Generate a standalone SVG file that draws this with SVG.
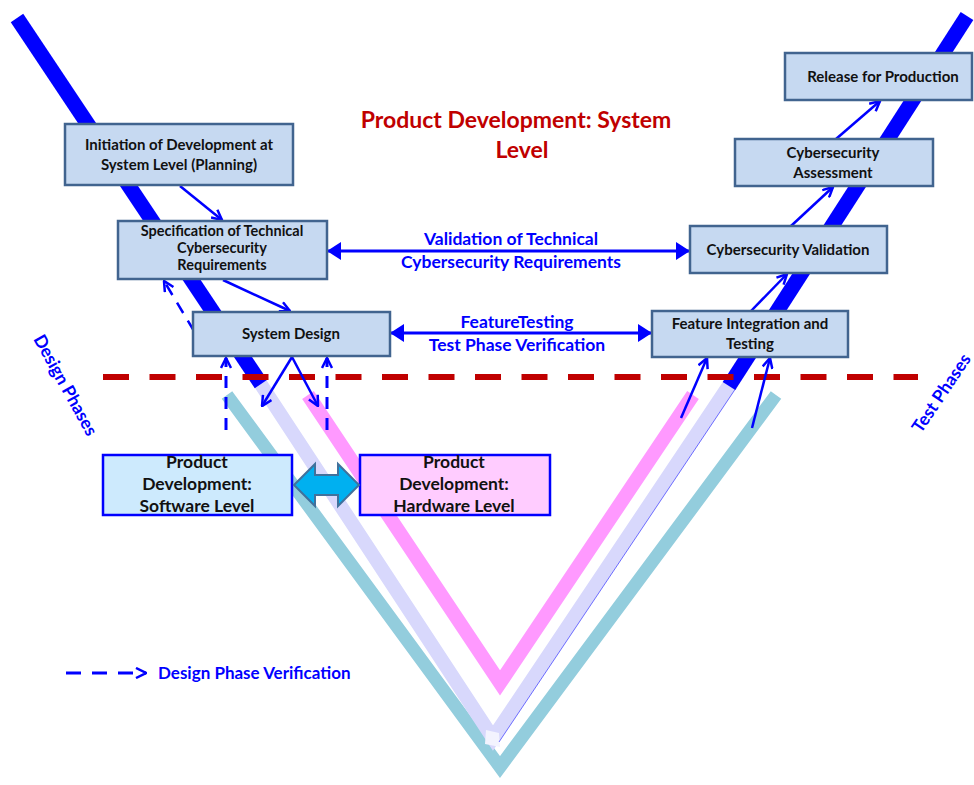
<svg xmlns="http://www.w3.org/2000/svg" width="974" height="785" viewBox="0 0 974 785">
<defs>
<style>
.band{fill:none;stroke-linejoin:miter;stroke-miterlimit:10}
.box{fill:#c6d9f1;stroke:#41648f;stroke-width:2.5}
.lbl{font-family:Lato,"Open Sans",sans-serif;font-weight:700;font-size:15px;fill:#111;text-anchor:middle}
.big{font-size:17.5px}
.mid{font-size:17.5px}
.blue{fill:#0000ff}
.ttl{font-family:Lato,"Open Sans",sans-serif;font-weight:700;font-size:23px;fill:#c00000;text-anchor:middle}
.con{fill:none;stroke:#0000ff;stroke-width:2.5}
.dash{stroke-dasharray:12 9}
</style>
<marker id="open" viewBox="0 0 12 12" refX="11" refY="6" markerWidth="12" markerHeight="12" markerUnits="userSpaceOnUse" orient="auto">
<path d="M1,1 L11,6 L1,11" fill="none" stroke="#0000ff" stroke-width="2.5"/>
</marker>
<marker id="tri" viewBox="0 0 14 18" refX="13" refY="9" markerWidth="14" markerHeight="18" markerUnits="userSpaceOnUse" orient="auto-start-reverse">
<path d="M0,0 L14,9 L0,18 Z" fill="#0000ff"/>
</marker>
</defs>
<rect width="974" height="785" fill="#ffffff"/>
<g id="v-model">
<polyline class="band" points="227,395 500,767 776,395" stroke="#93cddd" stroke-width="13"/>
<polyline class="band" points="260,383 493,738 730,384" stroke="#d8d8fc" stroke-width="14"/>
<polygon points="486,730 499,733 500,747 485,744" fill="#f3f3fe"/>
<line x1="499" y1="742" x2="736" y2="388" stroke="#0000ff" stroke-width="0.8" opacity="0.7"/>
<polyline class="band" points="308,395 500,683 693,395" stroke="#ff99ff" stroke-width="14"/>
<line x1="17" y1="18" x2="261" y2="384" stroke="#0000ff" stroke-width="15"/>
<line x1="729" y1="386" x2="967" y2="16" stroke="#0000ff" stroke-width="15"/>
<line x1="103" y1="377" x2="918" y2="377" stroke="#c00000" stroke-width="6" stroke-dasharray="26 20.5"/>
</g>
<g id="title">
<text class="ttl" x="516" y="128">Product Development: System</text>
<text class="ttl" x="522" y="158">Level</text>
</g>
<g id="phase-labels">
<text class="lbl blue mid" style="text-anchor:start" transform="translate(33,339) rotate(61)">Design Phases</text>
<text class="lbl blue mid" style="text-anchor:start" transform="translate(921,434) rotate(-56)">Test Phases</text>
</g>
<g id="connectors">
<line class="con" x1="180" y1="186" x2="222" y2="220" marker-end="url(#open)"/>
<line class="con" x1="223" y1="280" x2="290" y2="311" marker-end="url(#open)"/>
<line class="con dash" x1="194" y1="331" x2="164" y2="281" marker-end="url(#open)"/>
<line class="con" x1="292" y1="357" x2="262" y2="406" marker-end="url(#open)"/>
<line class="con" x1="292" y1="357" x2="318" y2="406" marker-end="url(#open)"/>
<line class="con dash" style="stroke-width:3" x1="226" y1="430" x2="226" y2="358" marker-end="url(#open)"/>
<line class="con dash" style="stroke-width:3" x1="327" y1="430" x2="327" y2="358" marker-end="url(#open)"/>
<line class="con" x1="681" y1="418" x2="707" y2="358" marker-end="url(#open)"/>
<line class="con" x1="752" y1="428" x2="770" y2="358" marker-end="url(#open)"/>
<line class="con" x1="751" y1="311" x2="787" y2="274" marker-end="url(#open)"/>
<line class="con" x1="791" y1="226" x2="833" y2="187" marker-end="url(#open)"/>
<line class="con" x1="836" y1="139" x2="880" y2="101" marker-end="url(#open)"/>
<line class="con" style="stroke-width:3" x1="328" y1="251" x2="689" y2="251" marker-start="url(#tri)" marker-end="url(#tri)"/>
<line class="con" style="stroke-width:3" x1="391" y1="333" x2="651" y2="333" marker-start="url(#tri)" marker-end="url(#tri)"/>
<text class="lbl blue mid" x="511" y="245">Validation of Technical</text>
<text class="lbl blue mid" x="511" y="268">Cybersecurity  Requirements</text>
<text class="lbl blue mid" x="517" y="328">FeatureTesting</text>
<text class="lbl blue mid" x="517" y="351">Test Phase Verification</text>
</g>
<g id="n-initiation">
<rect class="box" x="65" y="124" width="228" height="61"/>
<text class="lbl" x="179" y="150">Initiation of Development at</text>
<text class="lbl" x="179" y="170">System Level (Planning)</text>
</g>
<g id="n-spec">
<rect class="box" x="118" y="221" width="209" height="58"/>
<text class="lbl" style="font-size:14.5px" x="222" y="236">Specification of Technical</text>
<text class="lbl" style="font-size:14.5px" x="222" y="253">Cybersecurity</text>
<text class="lbl" style="font-size:14.5px" x="222" y="270">Requirements</text>
</g>
<g id="n-sysdesign">
<rect class="box" x="193" y="312" width="197" height="44"/>
<text class="lbl" x="291" y="339">System Design</text>
</g>
<g id="n-release">
<rect class="box" x="785" y="53" width="187" height="47"/>
<text class="lbl" x="883" y="82">Release for Production</text>
</g>
<g id="n-assessment">
<rect class="box" x="735" y="139" width="198" height="47"/>
<text class="lbl" x="833" y="158">Cybersecurity</text>
<text class="lbl" x="833" y="178">Assessment</text>
</g>
<g id="n-validation">
<rect class="box" x="690" y="226" width="197" height="47"/>
<text class="lbl" x="788" y="255">Cybersecurity Validation</text>
</g>
<g id="n-fit">
<rect class="box" x="652" y="311" width="196" height="46"/>
<text class="lbl" x="750" y="329">Feature Integration and</text>
<text class="lbl" x="750" y="349">Testing</text>
</g>
<g id="n-software">
<rect x="103" y="455" width="189" height="60" fill="#cdeafd" stroke="#0000ff" stroke-width="2.5"/>
<text class="lbl big" x="197" y="468">Product</text>
<text class="lbl big" x="197" y="490">Development:</text>
<text class="lbl big" x="197" y="512">Software Level</text>
</g>
<g id="n-hardware">
<rect x="360" y="455" width="190" height="60" fill="#ffccff" stroke="#0000ff" stroke-width="2.5"/>
<text class="lbl big" x="454" y="468">Product</text>
<text class="lbl big" x="454" y="490">Development:</text>
<text class="lbl big" x="454" y="512">Hardware Level</text>
</g>
<g id="sw-hw-link">
<path d="M294,485 L315,464 L315,475 L338,475 L338,464 L359,485 L338,506 L338,495 L315,495 L315,506 Z" fill="#00b0f0" stroke="#41719c" stroke-width="2"/>
</g>
<g id="legend">
<line class="con" style="stroke-width:3;stroke-dasharray:15 11" x1="66" y1="673" x2="146" y2="673" marker-end="url(#open)"/>
<text class="lbl blue" style="font-size:17px;text-anchor:start" x="158" y="679">Design Phase Verification</text>
</g>
</svg>
